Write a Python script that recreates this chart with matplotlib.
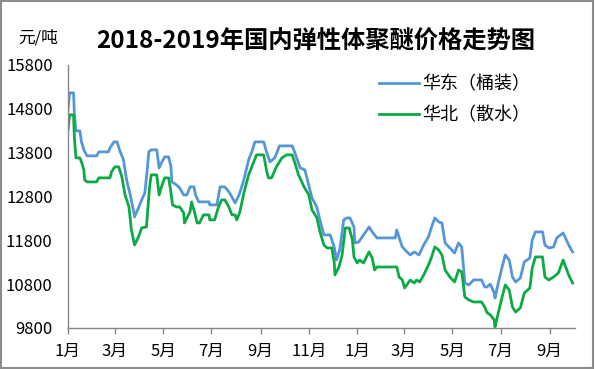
import matplotlib
matplotlib.use("Agg")
import matplotlib.pyplot as plt
import pandas as pd
from matplotlib.patches import Rectangle

plt.rcParams['font.family'] = ['Noto Sans CJK SC', 'DejaVu Sans']

title = "2018-2019年国内弹性体聚醚价格走势图"
unit_label = "元/吨"
series_names = ["华东（桶装）", "华北（散水）"]

east_dates = [
    "2018-01-01", "2018-01-03", "2018-01-08", "2018-01-09", "2018-01-11", "2018-01-16", "2018-01-18",
    "2018-01-21", "2018-01-25", "2018-02-06", "2018-02-09", "2018-02-21", "2018-02-23", "2018-02-28",
    "2018-03-04", "2018-03-07", "2018-03-12", "2018-03-16", "2018-03-20", "2018-03-25", "2018-03-26",
    "2018-03-31", "2018-04-04", "2018-04-08", "2018-04-11", "2018-04-13", "2018-04-16", "2018-04-23",
    "2018-04-26", "2018-04-29", "2018-05-03", "2018-05-08", "2018-05-11", "2018-05-12", "2018-05-18",
    "2018-05-22", "2018-05-27", "2018-05-31", "2018-06-04", "2018-06-09", "2018-06-11", "2018-06-15",
    "2018-06-28", "2018-06-29", "2018-07-08", "2018-07-12", "2018-07-18", "2018-07-24", "2018-07-31",
    "2018-08-05", "2018-08-11", "2018-08-17", "2018-08-21", "2018-08-25", "2018-09-05", "2018-09-09",
    "2018-09-13", "2018-09-19", "2018-09-25", "2018-10-11", "2018-10-14", "2018-10-21", "2018-10-27",
    "2018-11-05", "2018-11-11", "2018-11-15", "2018-11-20", "2018-11-28", "2018-12-03", "2018-12-06",
    "2018-12-10", "2018-12-15", "2018-12-19", "2018-12-23", "2018-12-28", "2018-12-29", "2019-01-03",
    "2019-01-09", "2019-01-16", "2019-01-20", "2019-01-26", "2019-02-18", "2019-02-20", "2019-02-24",
    "2019-02-27", "2019-03-05", "2019-03-09", "2019-03-14", "2019-03-20", "2019-03-26", "2019-04-01",
    "2019-04-05", "2019-04-09", "2019-04-14", "2019-04-18", "2019-04-22", "2019-04-28", "2019-05-04",
    "2019-05-09", "2019-05-13", "2019-05-17", "2019-05-22", "2019-05-28", "2019-06-07", "2019-06-11",
    "2019-06-14", "2019-06-18", "2019-06-23", "2019-06-24", "2019-06-29", "2019-07-03", "2019-07-07",
    "2019-07-12", "2019-07-16", "2019-07-20", "2019-07-26", "2019-07-31", "2019-08-07", "2019-08-10",
    "2019-08-14", "2019-08-23", "2019-08-26", "2019-08-31", "2019-09-06", "2019-09-10", "2019-09-18",
    "2019-09-25", "2019-09-30",
]
east_values = [
    14777, 15165, 15165, 14709, 14297, 14297, 14046,
    13864, 13727, 13727, 13818, 13818, 13909, 14046,
    14046, 13864, 13635, 13179, 12882, 12448, 12334,
    12540, 12722, 12882, 13400, 13818, 13864, 13864,
    13453, 13567, 13704, 13704, 13476, 13133, 13065,
    12996, 12836, 12836, 13019, 13019, 12836, 12677,
    12677, 12608, 12608, 13019, 13019, 12882, 12654,
    12836, 13179, 13635, 13818, 14046, 14046, 13795,
    13590, 13681, 13955, 13955, 13818, 13453, 13407,
    12768, 12562, 12266, 11923, 11923, 11649, 11352,
    11581, 12266, 12311, 12311, 12106, 11740, 11763,
    11923, 12106, 11992, 11855, 11855, 12037, 11809,
    11649, 11535, 11466, 11535, 11466, 11695, 11878,
    12106, 12311, 12220, 12197, 11740, 11626, 11512,
    11740, 11649, 10827, 10782, 10896, 10896, 10736,
    10736, 10800, 10599, 10485, 10896, 11192, 11466,
    11352, 10964, 10850, 10941, 11307, 11398, 11809,
    11992, 11992, 11695, 11626, 11649, 11855, 11969,
    11695, 11535,
]

north_dates = [
    "2018-01-01", "2018-01-03", "2018-01-08", "2018-01-09", "2018-01-11", "2018-01-16", "2018-01-18",
    "2018-01-21", "2018-01-22", "2018-01-25", "2018-02-06", "2018-02-09", "2018-02-23", "2018-02-25",
    "2018-03-01", "2018-03-06", "2018-03-10", "2018-03-14", "2018-03-19", "2018-03-22", "2018-03-26",
    "2018-03-31", "2018-04-04", "2018-04-10", "2018-04-14", "2018-04-16", "2018-04-23", "2018-04-26",
    "2018-04-29", "2018-05-03", "2018-05-08", "2018-05-11", "2018-05-13", "2018-05-18", "2018-05-22",
    "2018-05-27", "2018-05-28", "2018-06-04", "2018-06-06", "2018-06-10", "2018-06-13", "2018-06-16",
    "2018-06-21", "2018-06-28", "2018-06-29", "2018-07-05", "2018-07-10", "2018-07-14", "2018-07-18",
    "2018-07-23", "2018-07-27", "2018-07-31", "2018-08-02", "2018-08-06", "2018-08-11", "2018-08-17",
    "2018-08-23", "2018-08-27", "2018-09-05", "2018-09-09", "2018-09-11", "2018-09-15", "2018-09-21",
    "2018-09-28", "2018-10-04", "2018-10-11", "2018-10-14", "2018-10-19", "2018-10-26", "2018-11-01",
    "2018-11-05", "2018-11-11", "2018-11-15", "2018-11-20", "2018-11-24", "2018-11-30", "2018-12-03",
    "2018-12-04", "2018-12-09", "2018-12-13", "2018-12-17", "2018-12-22", "2018-12-26", "2018-12-28",
    "2019-01-01", "2019-01-04", "2019-01-09", "2019-01-16", "2019-01-20", "2019-01-23", "2019-01-26",
    "2019-02-20", "2019-02-23", "2019-02-27", "2019-03-02", "2019-03-09", "2019-03-14", "2019-03-17",
    "2019-03-21", "2019-03-26", "2019-04-01", "2019-04-05", "2019-04-09", "2019-04-14", "2019-04-18",
    "2019-04-22", "2019-04-28", "2019-05-04", "2019-05-09", "2019-05-13", "2019-05-17", "2019-05-22",
    "2019-05-28", "2019-06-07", "2019-06-11", "2019-06-14", "2019-06-18", "2019-06-23", "2019-06-24",
    "2019-06-29", "2019-07-03", "2019-07-07", "2019-07-12", "2019-07-16", "2019-07-20", "2019-07-26",
    "2019-07-31", "2019-08-07", "2019-08-10", "2019-08-14", "2019-08-23", "2019-08-26", "2019-08-31",
    "2019-09-06", "2019-09-12", "2019-09-18", "2019-09-25", "2019-09-30",
]
north_values = [
    14320, 14663, 14663, 14160, 13681, 13681, 13590,
    13407, 13179, 13133, 13133, 13225, 13225, 13362,
    13476, 13476, 13247, 12836, 12562, 12037, 11695,
    11878, 12083, 12106, 13019, 13293, 13293, 12836,
    13019, 13225, 13225, 12882, 12608, 12562, 12562,
    12425, 12197, 12448, 12677, 12425, 12197, 12197,
    12380, 12380, 12266, 12266, 12562, 12722, 12722,
    12562, 12380, 12380, 12266, 12448, 12882, 13293,
    13567, 13750, 13750, 13362, 13225, 13225, 13476,
    13681, 13750, 13750, 13590, 13293, 13019, 12836,
    12494, 12320, 12000, 11695, 11626, 11626, 11307,
    11010, 11192, 11466, 12083, 12083, 11809, 11421,
    11284, 11352, 11284, 11535, 11398, 11124, 11192,
    11192, 10964, 10896, 10713, 10896, 10827, 10896,
    10850, 11010, 11238, 11421, 11649, 11581, 11466,
    11124, 10964, 10850, 11124, 11078, 10508, 10439,
    10394, 10394, 10280, 10150, 10100, 9983, 9823,
    10211, 10508, 10782, 10668, 10280, 10165, 10257,
    10599, 10713, 11170, 11421, 11421, 10964, 10896,
    10964, 11055, 11352, 11010, 10827,
]

y_ticks = [9800, 10800, 11800, 12800, 13800, 14800, 15800]
x_tick_dates = ["2018-01-01", "2018-03-01", "2018-05-01", "2018-07-01", "2018-09-01", "2018-11-01",
                "2019-01-01", "2019-03-01", "2019-05-01", "2019-07-01", "2019-09-01"]
x_tick_labels = ["1月", "3月", "5月", "7月", "9月", "11月", "1月", "3月", "5月", "7月", "9月"]

blue = "#5596D8"
green = "#0CAA45"

fig = plt.figure(figsize=(5.95, 3.69), dpi=100)
ax = fig.add_axes([68/595, 1-328/369, (575-68)/595, (328-65)/369])

ax.plot(pd.to_datetime(east_dates), east_values, color=blue, lw=2.0, label=series_names[0])
ax.plot(pd.to_datetime(north_dates), north_values, color=green, lw=2.0, label=series_names[1])

ax.set_ylim(9800, 15800)
ax.set_yticks(y_ticks)
ax.set_yticklabels([str(v) for v in y_ticks])
ax.set_xlim(pd.Timestamp("2018-01-01"), pd.Timestamp("2019-10-03"))
ax.set_xticks(pd.to_datetime(x_tick_dates))
ax.set_xticklabels(x_tick_labels)

for s in ["top", "right"]:
    ax.spines[s].set_visible(False)
for s in ["left", "bottom"]:
    ax.spines[s].set_color("#868686")
    ax.spines[s].set_linewidth(1.0)

ax.tick_params(axis="y", length=0, pad=11, labelsize=12, labelcolor="#000000")
ax.tick_params(axis="x", direction="out", length=4, width=1, color="#868686", pad=7,
               labelsize=12, labelcolor="#000000")

fig.text(316/595, 1-42/369, title, ha="center", va="center", fontsize=17.5, fontweight="bold")
fig.text(38/595, 1-38/369, unit_label, ha="center", va="center", fontsize=12)

leg = ax.legend(loc="upper left", bbox_to_anchor=(372/595, 1-68/369), bbox_transform=fig.transFigure,
                frameon=False, fontsize=13, handlelength=2.2, handletextpad=0.2, labelspacing=0.75,
                borderaxespad=0)

fig.patches.append(Rectangle((0.002, 0.003), 0.995, 0.994, transform=fig.transFigure, fill=False,
                             edgecolor="#8c8c8c", lw=1.5))

fig.savefig("out.png", dpi=100)
